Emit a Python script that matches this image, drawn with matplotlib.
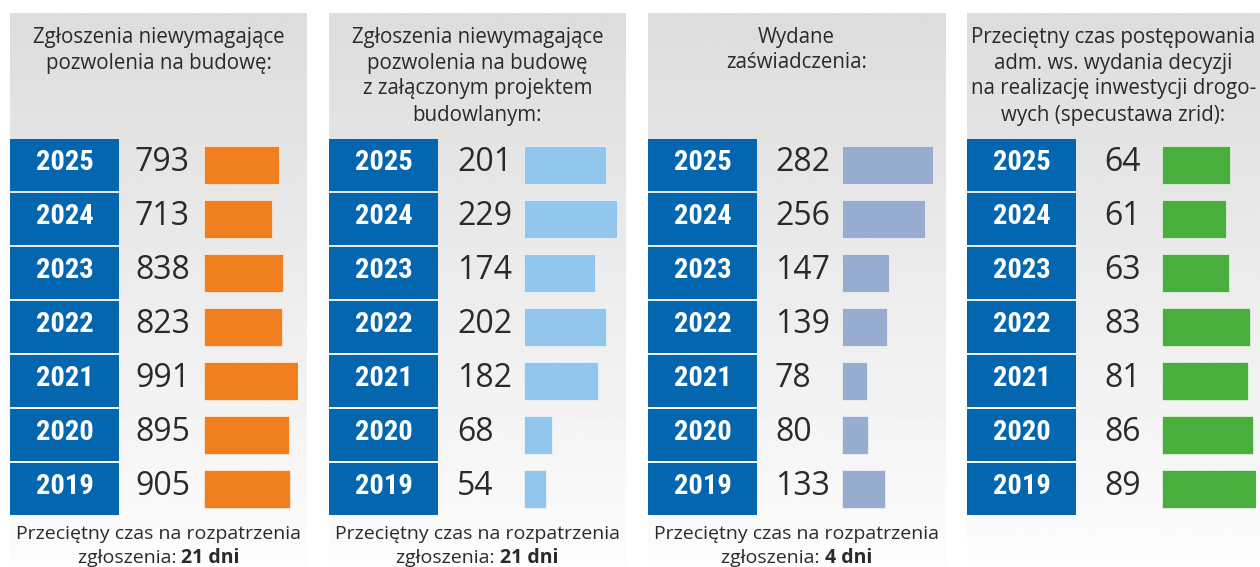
import matplotlib.pyplot as plt
import numpy as np

W, H = 1260, 567

YEARS = ["2025", "2024", "2023", "2022", "2021", "2020", "2019"]
ZGLOSZENIA = [793, 713, 838, 823, 991, 895, 905]
ZGLOSZENIA_PROJEKT = [201, 229, 174, 202, 182, 68, 54]
ZASWIADCZENIA = [282, 256, 147, 139, 78, 80, 133]
CZAS_ZRID = [64, 61, 63, 83, 81, 86, 89]

TITLES = [
    ["Zgłoszenia niewymagające", "pozwolenia na budowę:"],
    ["Zgłoszenia niewymagające", "pozwolenia na budowę",
     "z załączonym projektem", "budowlanym:"],
    ["Wydane", "zaświadczenia:"],
    ["Przeciętny czas postępowania", "adm. ws. wydania decyzji",
     "na realizację inwestycji drogo-", "wych (specustawa zrid):"],
]
FOOTER_LINE = "Przeciętny czas na rozpatrzenia"
FOOTER_DAYS = ["21 dni", "21 dni", "4 dni", None]

BLUE = "#0566b0"
TEXT = "#2a2a2a"
BAR_COLORS = ["#ef7f1f", "#93c6ed", "#97acce", "#4aae3f"]

# panel geometry in pixels: left, width, number x, bar x, bar width
PANELS = [
    (10, 297, 135, 204, 94),
    (329, 297, 457, 524, 93),
    (648, 297, 775, 842, 91),
    (967, 293, 1104, 1162, 94),
]
ROW_TOP, ROW_PITCH = 138, 54

plt.rcParams["font.family"] = ["Open Sans", "DejaVu Sans"]
YEAR_FONT = ["Roboto Condensed", "Open Sans Condensed", "Noto Sans Condensed",
             "Liberation Sans Narrow", "Noto Sans"]


def px_rect(x, y, w, h):
    return [x / W, 1 - (y + h) / H, w / W, h / H]


fig = plt.figure(figsize=(W / 100, H / 100), dpi=100)
fig.patch.set_facecolor("white")

series = [ZGLOSZENIA, ZGLOSZENIA_PROJEKT, ZASWIADCZENIA, CZAS_ZRID]
n = len(YEARS)
rows = np.arange(n)
footer_parts = []

for i, (x0, pw, num_x, bar_x, bar_w) in enumerate(PANELS):
    vals = series[i]

    # gray gradient background
    bg = fig.add_axes(px_rect(x0, 13, pw, H - 13))
    grad = np.linspace(0.865, 0.99, 256).reshape(-1, 1)
    bg.imshow(grad, cmap="gray", vmin=0, vmax=1, aspect="auto",
              extent=[0, 1, 0, 1], origin="upper")
    bg.axis("off")

    # year boxes and values
    ax = fig.add_axes(px_rect(x0, ROW_TOP, pw, ROW_PITCH * n))
    ax.set_xlim(0, pw)
    ax.set_ylim(n - 0.5, -0.5)
    ax.barh(rows, 109, left=0, height=0.97, color=BLUE, edgecolor="none")
    for r, (yr, v) in enumerate(zip(YEARS, vals)):
        ax.text(54.5, r - 0.04, yr, ha="center", va="center", color="white",
                fontsize=20.5, fontweight="bold", fontstretch="condensed",
                family=YEAR_FONT)
        ax.text(num_x - x0, r - 0.04, str(v), ha="left", va="center",
                color=TEXT, fontsize=23)
    ax.axis("off")
    ax.patch.set_visible(False)

    # value bars
    bx = fig.add_axes(px_rect(bar_x, ROW_TOP, bar_w, ROW_PITCH * n))
    bx.set_xlim(0, max(vals))
    bx.set_ylim(n - 0.5, -0.5)
    bx.barh(rows, vals, height=0.72, color=BAR_COLORS[i],
            edgecolor="#ffffff", linewidth=0.4)
    bx.axis("off")
    bx.patch.set_visible(False)

    cx = (x0 + pw / 2) / W
    for k, line in enumerate(TITLES[i]):
        fig.text(cx, 1 - (37 + 26 * k) / H, line, ha="center", va="center",
                 color=TEXT, fontsize=14.8)

    if FOOTER_DAYS[i]:
        fig.text(cx, 1 - 534 / H, FOOTER_LINE, ha="center", va="center",
                 color=TEXT, fontsize=14)
        t1 = fig.text(cx, 1 - 558 / H, "zgłoszenia: ", ha="left", va="center",
                      color=TEXT, fontsize=14)
        t2 = fig.text(cx, 1 - 558 / H, FOOTER_DAYS[i], ha="left", va="center",
                      color=TEXT, fontsize=14, fontweight="bold")
        footer_parts.append((cx, t1, t2))

# center the mixed regular/bold footer line
renderer = fig.canvas.get_renderer()
for cx, t1, t2 in footer_parts:
    w1 = t1.get_window_extent(renderer).width / W
    w2 = t2.get_window_extent(renderer).width / W
    left = cx - (w1 + w2) / 2
    t1.set_x(left)
    t2.set_x(left + w1)

fig.savefig("out.png", dpi=100)
